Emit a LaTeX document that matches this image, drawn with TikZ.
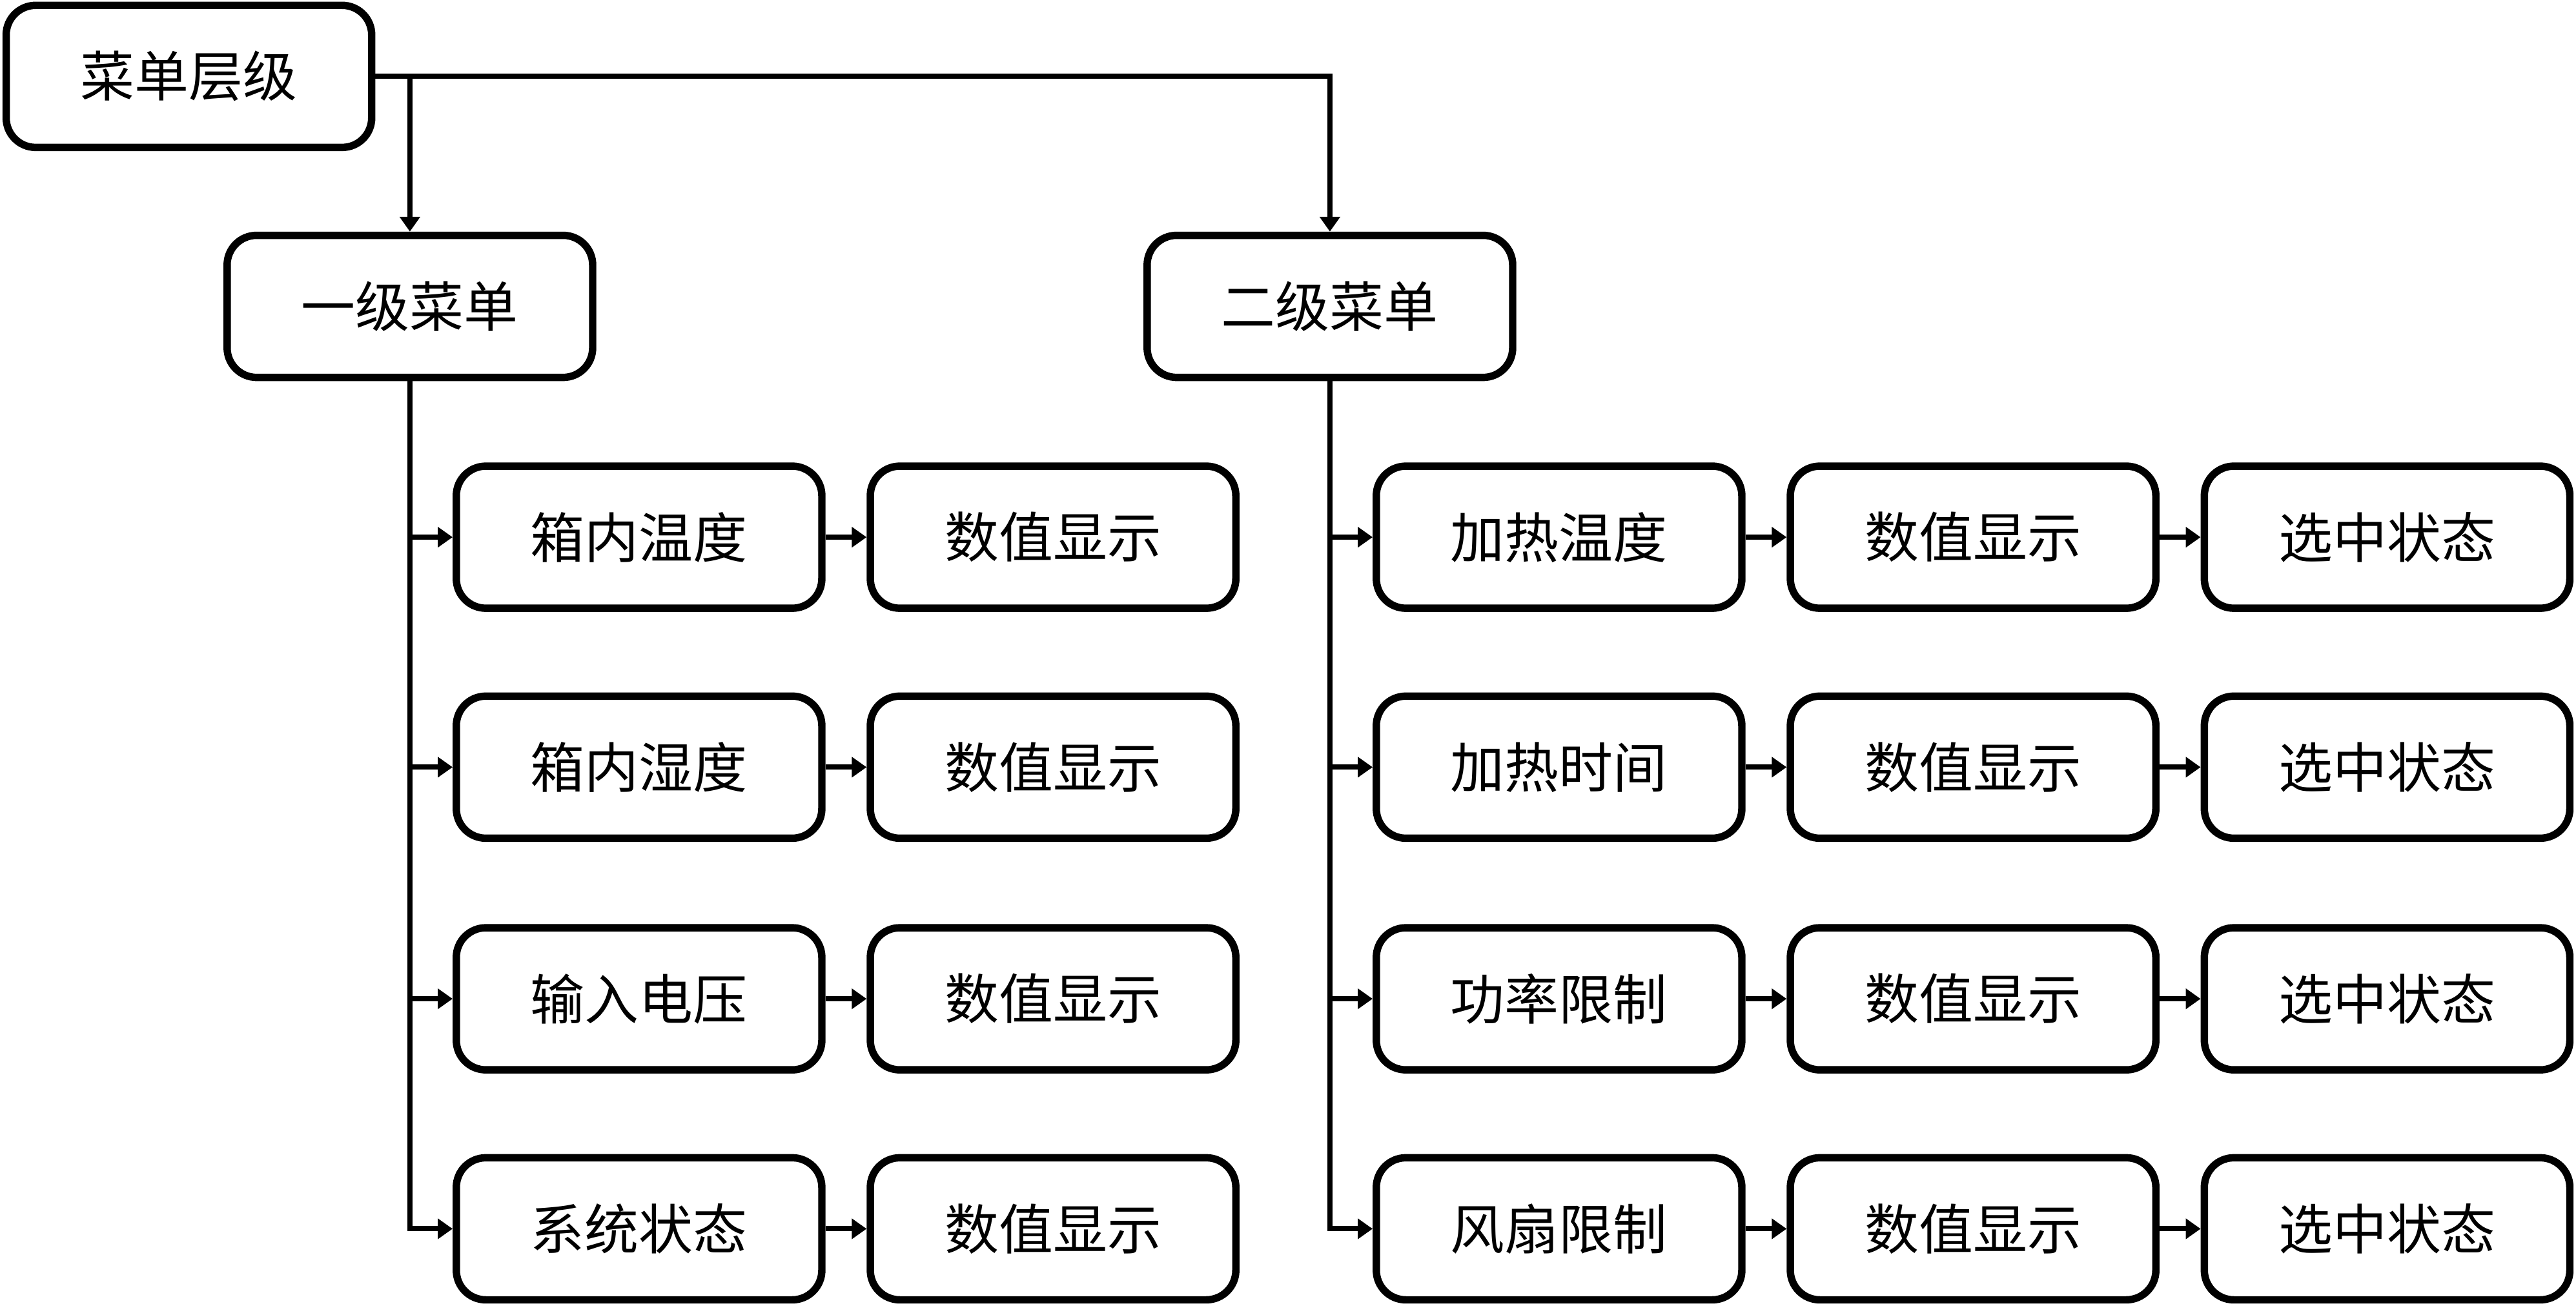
\documentclass[tikz,border=0pt]{standalone}
\usepackage{fontspec}
\newfontfamily\cjk{Noto Sans CJK SC}
\usetikzlibrary{arrows.meta}

\begin{document}
\begin{tikzpicture}[x=1pt,y=1pt]

    \tikzset{menubox/.style={draw,line width=4.5pt,rounded corners=18pt,fill=white,
        minimum width=222.5pt,minimum height=86.5pt,inner sep=0pt,
        font=\cjk\fontsize{33}{38}\selectfont}}
    \useasboundingbox[fill=white] (0,0) rectangle (1568,-795);

    \node[menubox] (m0) at (115,-46.5) {菜单层级};
    \node[menubox] (m1) at (249.5,-186.5) {一级菜单};
    \node[menubox] (m2) at (809.5,-186.5) {二级菜单};

    % first level
    \node[menubox] (a1) at (389,-327) {箱内温度};
    \node[menubox] (a2) at (389,-467) {箱内湿度};
    \node[menubox] (a3) at (389,-608) {输入电压};
    \node[menubox] (a4) at (389,-748) {系统状态};
    \node[menubox] (b1) at (641,-327) {数值显示};
    \node[menubox] (b2) at (641,-467) {数值显示};
    \node[menubox] (b3) at (641,-608) {数值显示};
    \node[menubox] (b4) at (641,-748) {数值显示};

    % second level
    \node[menubox] (c1) at (949,-327) {加热温度};
    \node[menubox] (c2) at (949,-467) {加热时间};
    \node[menubox] (c3) at (949,-608) {功率限制};
    \node[menubox] (c4) at (949,-748) {风扇限制};
    \node[menubox] (d1) at (1201,-327) {数值显示};
    \node[menubox] (d2) at (1201,-467) {数值显示};
    \node[menubox] (d3) at (1201,-608) {数值显示};
    \node[menubox] (d4) at (1201,-748) {数值显示};
    \node[menubox] (e1) at (1453,-327) {选中状态};
    \node[menubox] (e2) at (1453,-467) {选中状态};
    \node[menubox] (e3) at (1453,-608) {选中状态};
    \node[menubox] (e4) at (1453,-748) {选中状态};

    \begin{scope}[every path/.style={-{Triangle[length=9pt,width=12pt]},line width=3.2pt}]
        \draw (m0.east) -| (m2.north);
        \draw (m0.east -| m1.north) -- (m1.north);

        \draw (m1.south) |- (a4.west);
        \draw (m1.south |- a1.west) -- (a1.west);
        \draw (m1.south |- a2.west) -- (a2.west);
        \draw (m1.south |- a3.west) -- (a3.west);
        \draw (a1) -- (b1);
        \draw (a2) -- (b2);
        \draw (a3) -- (b3);
        \draw (a4) -- (b4);

        \draw (m2.south) |- (c4.west);
        \draw (m2.south |- c1.west) -- (c1.west);
        \draw (m2.south |- c2.west) -- (c2.west);
        \draw (m2.south |- c3.west) -- (c3.west);
        \draw (c1) -- (d1);
        \draw (c2) -- (d2);
        \draw (c3) -- (d3);
        \draw (c4) -- (d4);
        \draw (d1) -- (e1);
        \draw (d2) -- (e2);
        \draw (d3) -- (e3);
        \draw (d4) -- (e4);
    \end{scope}
\end{tikzpicture}
\end{document}
